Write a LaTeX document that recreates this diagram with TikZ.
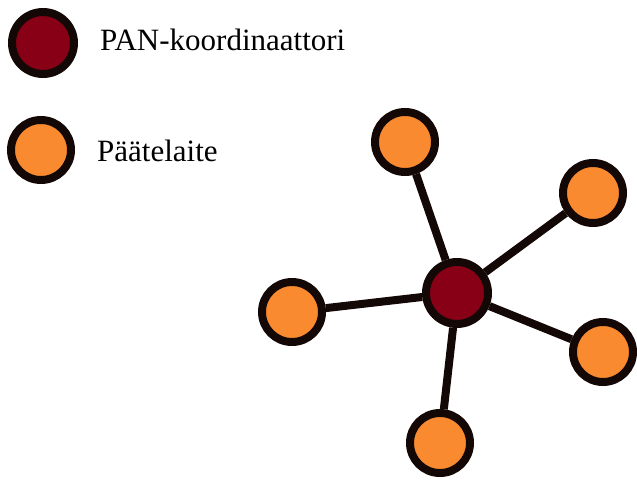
\documentclass[tikz,border=0pt]{standalone}
\usepackage{fontspec}
\setmainfont{Liberation Serif}
\usepackage{tikz}
\definecolor{hubred}{RGB}{135,0,22}
\definecolor{leaforange}{RGB}{250,138,48}
\definecolor{rim}{RGB}{20,8,6}
\tikzset{
  pan hub/.style={
    circle, draw=rim, fill=hubred, line width=8pt,
    minimum size=62pt, inner sep=0pt
  },
  pan leaf/.style={
    pan hub, fill=leaforange, minimum size=60pt
  },
  pan link/.style={
    draw=rim, line width=8pt
  },
  pan label/.style={
    anchor=base west, font=\fontsize{31}{35}\selectfont, inner sep=0pt
  }
}

\begin{document}
\begin{tikzpicture}[x=1pt, y=-1pt]
  \useasboundingbox (0,0) rectangle (637,484);

  % legend
  \node (lhub) [pan hub] at (43,43) {};
  \node (lleaf) [pan leaf] at (41,150) {};
  \node (thub) [pan label] at (100,51) {PAN-koordinaattori};
  \node (tleaf) [pan label] at (97,161) {Päätelaite};

  % star network
  \node (hub) [pan hub] at (457,293) {};
  \node (n1) [pan leaf] at (405,142) {};
  \node (n2) [pan leaf] at (593,193) {};
  \node (n3) [pan leaf] at (292,312) {};
  \node (n4) [pan leaf] at (603,352) {};
  \node (n5) [pan leaf] at (440,443) {};

  \draw [pan link] (hub) -- (n1);
  \draw [pan link] (hub) -- (n2);
  \draw [pan link] (hub) -- (n3);
  \draw [pan link] (hub) -- (n4);
  \draw [pan link] (hub) -- (n5);
\end{tikzpicture}
\end{document}
